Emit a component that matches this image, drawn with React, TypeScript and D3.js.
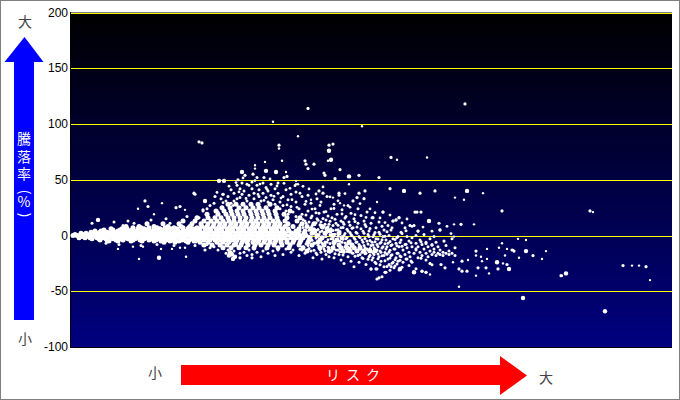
import React from "react";
import * as d3 from "d3";

const yTicks = [200, 150, 100, 50, 0, -50, -100];

// Dense body of the cloud, one row per return level: [return, risk, risk, ...]
const denseRows: number[][] = [
  [0,2,6,9,13,17,20,24,28,31,35,39,42,46,50,53,57,61,64,68,72,75,79,83,86,90,94,97,101,105,108,112,116,119,123,127,130,134,138,141,145,149,152,156,160,163,167,171,174,178,182,185,189,193,196,200,204,207,211,215,219,224,229,235,246,262],
  [2,10,15,22,27,33,38,44,49,55,60,66,71,77,82,88,93,99,104,110,115,121,126,132,137,143,148,154,159,165,170,176,181,187,192,198,203,209,214,221,227,233,241,254,268],
  [-2,8,14,19,26,32,37,43,48,54,59,65,70,76,81,87,92,98,103,109,114,120,125,131,136,142,147,153,158,164,169,175,180,186,191,197,202,208,213,220,226,232,239,251,271],
  [4,24,30,41,47,58,63,74,80,91,96,107,113,124,129,135,140,146,151,157,162,168,173,179,184,190,195,201,206,212,218,225,234,244,259],
  [-4,29,36,45,52,62,69,78,85,95,102,111,118,128,133,139,144,150,155,161,166,172,177,183,188,194,199,205,210,216,223,230,238,249,266],
  [6,40,51,56,67,73,84,89,100,106,117,122,128,134,139,145,150,156,161,167,172,178,183,189,194,200,205,211,217,228,240,256],
  [-6,93,104,117,129,137,146,152,158,165,171,176,182,187,193,199,204,210,216,222,229,237,247,263,278],
  [8,55,68,83,97,110,119,131,136,142,148,153,159,164,170,175,181,186,192,197,203,208,214,222,236,251],
  [10.5,76,92,108,121,130,137,143,149,154,160,165,171,176,182,187,193,198,204,209,217,231,243],
  [-8.5,133,141,149,156,163,170,177,184,190,197,203,211,219,228,241,253,268,281],
  [13,112,124,133,140,146,152,158,163,169,174,180,185,191,196,202,207,214,226],
  [-11,152,160,168,175,183,196,207,218,232,249,262,270,276,283,289],
  [16,126,137,144,150,157,163,169,175,181,187,193,199,206,216,229],
  [19,136,147,155,161,167,173,180,186,192,198,205,213],
  [22,145,153,160,166,172,179,185,191,197,204,219],
  [25,151,159,168,175,182,188,195,206],
  [28,157,165,172,180,187,199],
  [-14,236,258,272,279,286,293,299,304],
  [1,4,12,19,26,34,41,48,56,63,70,78,85,92,100,107,114,122,129],
  [-1,11,18,25,33,40,47,55,62,69,77,84,91,99,106,113,121,128],
  [3,20,29,36,43,52,59,67,72,81,87,94,103,109,118,125],
  [-3,21,28,35,42,50,57,64,73,80,88,96,104,112,120,126],
  [5,33,42,49,54,61,69,76,83,90,98,105,112,120,127],
  [-5,38,47,60,71,83,90,99,108,115,123],
  [7,62,70,78,86,94,103,112,118,126],
];

// Edge of the cloud: [risk, return, return, ...]
const edgeColumns: number[][] = [
  [21,11],[27,14],[35,-7],[43,12],[48,-8],[52,9],[57,13],[63,11],[70,-9],[80,14],[86,-8],[95,15],[99,11],[103,-9],[112,13],[116,17],[124,-9],[128,16],
  [132,22,-9],[136,-8,24],[139,-11,27],[143,29,-10],[147,21,-13],[150,33,-9],[152,37],[155,31,-16],[157,-13,35],[160,29,41,-15],[163,38,-14,31],[166,45,33,-9],
  [169,34,42,-16],[171,47,37],[173,40,-15],[176,31,46,-18],[178,36,-13],[181,42,48,-17],[183,33,38,-12],[186,45,52,-15],[188,35,41],[190,31,-19],[192,47,38,-14],[195,34,43,-12],
  [197,30,40,-16],[200,36,46],[202,32,-14],[204,28,42,-18],[207,38,47,-13],[209,30,24],[212,35,27,-17],[215,41,22,-12],[217,32,19],[220,26,37,-15],[222,21,-13],[225,30,39,17],
  [228,24,15,-18],[231,35,19,-13],[234,28,13,-16],[237,22,36,-9],[240,16,29,-14],[242,-20,10],[244,24,-7,5],[246,33,15,-17],[248,-11,1,20],[250,12,-15,-3,30],[251,-7,4,-21],[253,21,-12,8],
  [255,-1,-17,14],[256,-6,35,3],[258,10,-11,-19],[260,24,-3,6],[261,-14,16,1],[263,-8,28,-20],[265,5,-13,11],[266,-4,19],[268,-17,2,-9,36],[270,13,-22,7],[271,-6,23,-12],[273,0,-15,10,-25],
  [275,-3,17,-9],[277,4,-19,-13,27],[278,-7,12],[280,1,-23,20],[282,-10,7,-16],[283,-2,15,-28],[285,-13,3,-6],[287,11,-18,24],[288,-8,-1,-24],[290,6,-12,18],[291,-4,-20,-15],[293,2,-9,13],
  [295,-16,-26,8],[296,-5,-12,21],[298,-1,-19,4],[300,-9,-14,11,-30],[301,-22,-6,16],[303,1,-11,-17],[305,-3,-25,7],[306,-13,-8,-30],[308,-19,3,12],[310,-6,-15,-23],[312,-10,-1,21],[313,-18,5,-28],
  [315,-12,-4,-33],[317,-21,-7,9],[318,-15,0,-26],[320,-9,-18,5],[322,13,-3,-24],[323,-12,-29],[325,14,-7,-20],[327,-16,-1,-23],[328,16,-10,-31],[330,-4,-19,3],[332,-13,-24],[334,-8,-17,7],
  [336,-1,-21,-11],[338,-15,-5,-27],[339,9,-19],[341,-10,-2,-24],[343,9,-16,-33],[345,-7,-13,0],[347,4,-20,-10],[349,-15,-4],[351,-8,-18,-32],[353,-12,1],[355,-16,-33,-6],[357,-10,-19],
  [359,-14,-25,-3],[361,-17,-8],[363,-15,-12,-1],[365,-18,-6],[367,-16,-10],[369,-17,5,-13],[372,-15,-18],[375,-9,-16],[378,-17,-14],[381,-16,-3],[384,-18,-11],
];

// Speckle above the main cloud
const upperSpeckle: number[][] = [
  [146,38.6],[152,29.4],[158,44.2],[162,26.8],[165,47.5],[168,39.1],[172,51.6],[175,33.2],[178,44.9],[180,27.7],[184,49.3],[187,36.8],[189,46.1],[193,31.5],[196,41.4],[199,50.7],[203,35.1],[206,44.4],
  [210,33.6],[213,46.8],[216,27.4],[219,42.3],[221,32.1],[224,44.7],[226,25.3],[229,37.9],[232,44.1],[235,30.6],[238,41.8],[241,23.7],[245,37.2],[249,26.9],[252,43.6],[255,21.4],[259,34.7],[263,24.2],
  [267,31.1],[271,19.3],[274,37.6],[279,25.4],[284,18.7],[289,28.6],[295,16.2],[299,23.9],[304,20.4],[309,15.8],[314,11.6],[319,18.3],[331,11.2],[336,14.8],[341,8.1],[352,7.6],[361,3.9],[376,8.2],[380,1.7],
];

// Second layer of the middle of the cloud, where many funds overlap
const midBody: number[][] = [
  [229,-5.5,9,-12.3,3.7],[232,7.2,-2.8,-10.4,14.1],[235,-7.6,1.4,10.9,18.3],[238,4.6,-11.7,-0.8,12.2],[241,-4.3,8.8,-9.1,17.6],[243,1.9,-13.2,6.1,-6.7],[245,11.4,-2.2,-15.8,20.3],
  [247,-8.8,5.3,-0.4,13.7],[249,3.2,-5.1,9.6,-12.7],[252,-9.7,-1.6,15.2,6.7],[254,2.4,-13.9,10.1,-5.9],[257,-3.7,7.9,-10.6,17.4],[259,0.6,-7.2,-15.1,12.8],[262,-11.8,4.4,-2.9,8.9],
  [264,-6.4,1.2,14.6,-16.3],[267,-12.9,-0.7,9.3,5.2],[269,-5.2,3.6,-9.8,-14.6],[272,7.1,-3.4,-17.5,11.9],[274,-10.2,1.7,-6.8,15.7],[276,-14.3,-1.9,5.7,-8.1],[279,-11.1,-4.7,9.2,2.8],
  [281,-15.7,-7.9,-0.3,6.4],[284,-10.7,-3.3,-18.6,12.6],[286,-13.6,-5.8,2.1,7.7],[289,-17.1,-9.4,-1.8,-12.2],[292,-6.1,-14.8,3.9,-20.7],[294,-10.9,-2.6,-16.4,9.8],[297,-7.7,-13.1,-21.3,0.9],
  [299,-4.4,-11.6,-17.8,6.2],[302,-8.6,-15.4,-1.2,-19.9],[304,-12.4,-5.6,-24.1,2.6],[307,-9.9,-16.7,-3.1,-20.8],[309,-13.8,-6.9,-26.2,1.1],[311,-11.3,-18.2,-3.8,8.2],[314,-15.2,-7.4,-22.6,-0.6],
  [316,-10.1,-16.9,-27.7,3.4],[319,-13.3,-5.3,-20.2,-31.1],[321,-8.3,-17.3,-24.8,6.9],[324,-12.1,-3.6,-21.7,-27.3],[326,-9.2,-15.9,-1.7,-25.6],[329,-18.4,-6.3,-22.2],[331,-9.6,-28.4,1.8],
  [335,-7.8,-21.1,4.3],[340,-6.6,-22.9],[345,-11.9,-29.8],[350,-5.7,-20.4],[355,-7.1,-21.9],[361,-8.7,-26.3],
];

const lightFunds: number[][] = [
  [202,102],[208,78],[227,89],[291,98],[326,68],[356,70],[412,38],[184,63],[184,60],[215,57],[225,49],[225,46],[227,46],[278,46],[269,29],[273,27],[306,30],[262,34],
  [240,32],[364,40],[393,32],[384,34],[383,10],[403,10],[339,9],[343,9],[383,-1],[447,-3],[455,-4],[431,-7],[416,-12],[428,-11],[436,-12],[442,-13],[405,-18],[475,-14],
  [471,-21],[448,-20],[410,-19],[416,-21],[397,-22],[411,-23],[382,-24],[359,-25],[434,-18],[432,-25],[405,-36],[418,-34],[359,-35],[388,-46],[561,-27],[568,-27],[579,-40],[522,21],[491,-36],
  [194,66],[211,67],[257,67],[67,24],[91,29],[83,19],[114,23],[68,-21],[115,-19],[62,-10],[72,-10],[101,-12],[90,-12],[114,-11],[109,-11],[125,-6],[47,-12],
];

const midFunds: number[][] = [
  [237,114],[128,84],[131,83],[394,118],[258,81],[262,82],[208,81],[253,56],[254,54],[320,70],[234,67],[235,64],[237,60],[243,64],[269,59],[288,54],[264,51],[182,55],[174,54],
  [319,42],[248,40],[252,38],[268,38],[288,38],[294,40],[282,31],[286,34],[293,33],[349,38],[364,40],[123,38],[124,37],[308,52],[216,53],[213,52],[193,52],[167,50],
  [312,21],[344,21],[346,21],[350,21],[302,16],[322,13],[325,14],[328,16],[369,5],[347,4],[368,11],[358,13],[390,10],[373,-5],[405,-14],[391,-23],[370,-26],[426,-24],
  [436,-26],[407,-29],[415,-29],[427,-30],[388,-30],[391,-32],[396,-32],[374,-29],[343,-33],[351,-32],[355,-33],[329,-30],[320,-28],[300,-30],[305,-30],[314,-33],[306,-39],[308,-38],[311,-37],
  [441,-13],[443,-14],[462,-18],[552,-27],[490,-36],[575,-28],[519,22],[431,22],[74,31],[77,26],[105,25],[109,26],[132,23],[144,35],[152,37],[134,-13],[169,-20],[181,-20],
];

const largeFunds: number[][] = [
  [258,76],[260,68],[171,57],[195,58],[205,57],[278,53],[148,49],[153,49],[134,31],[333,40],[396,40],[358,13],[455,-14],[438,-30],[495,-34],[452,-56],[534,-68],
  [161,-17],[158,-18],[164,-19],[159,-15],[162,-21],[88,-20],[329,-30],[343,-33],[426,-24],[27,14],
];

const fromRows = (rows: number[][]) => rows.flatMap(([ret, ...risks]) => risks.map((risk) => [risk, ret]));
const fromColumns = (cols: number[][]) => cols.flatMap(([risk, ...rets]) => rets.map((ret) => [risk, ret]));

const W = 680;
const H = 400;
const x = d3.scaleLinear().domain([0, 600]).range([71, 671]);
const y = d3.scaleLinear().domain([-100, 200]).range([347, 12.5]);

export default function App() {
  const dots = (points: number[][], r: number, k: string) =>
    points.map(([a, b], i) => <circle key={k + "-" + i} cx={x(a)} cy={y(b)} r={r} fill="#fff" />);
  return (
    <svg width={W} height={H} style={{ position: "absolute", left: 0, top: 0, background: "#fff" }} fontFamily="'Liberation Sans', Arial, sans-serif">
      <defs>
        <linearGradient id="bg" x1="0" y1="0" x2="0" y2="1">
          <stop offset="0" stopColor="#000000" />
          <stop offset="1" stopColor="#000080" />
        </linearGradient>
      </defs>
      <rect x={0.5} y={0.5} width={W - 1} height={H - 1} fill="#fff" stroke="#808080" />
      <rect x={x(0)} y={y(200)} width={601} height={y(-100) - y(200)} fill="url(#bg)" />
      {yTicks.filter((t) => t !== -100).map((t) => (
        <line key={t} x1={x(0)} x2={672} y1={Math.round(y(t)) + 0.5} y2={Math.round(y(t)) + 0.5} stroke="#ffff00" strokeWidth={1} />
      ))}
      <line x1={70.5} x2={70.5} y1={12} y2={347.5} stroke="#000" />
      <line x1={70} x2={672} y1={347.5} y2={347.5} stroke="#000" />
      {yTicks.map((t) => (
        <text key={t} x={68} y={y(t) + 4} textAnchor="end" fontSize={12} fill="#000">{t}</text>
      ))}
      {dots(lightFunds, 1.2, "l")}
      {dots(upperSpeckle, 1.4, "u")}
      {dots(fromColumns(edgeColumns), 1.5, "e")}
      {dots(fromColumns(midBody), 1.5, "b")}
      {dots(midFunds, 1.6, "m")}
      {dots(fromRows(denseRows), 2.5, "d")}
      {dots(largeFunds, 2.2, "g")}

      <path d="M24.5 37 L43.5 62 L34 62 L34 320 L14 320 L14 62 L4.5 62 Z" fill="#0000ff" />
      <path d="M181 365 L500 365 L500 356 L527 375.5 L500 395 L500 385 L181 385 Z" fill="#ff0000" />
      <g fontFamily="'Noto Sans CJK JP', sans-serif" fontSize={14} fill="#444" textAnchor="middle">
        <text x={25} y={27}>大</text>
        <text x={25} y={344}>小</text>
        <text x={155} y={378}>小</text>
        <text x={546} y={383}>大</text>
      </g>
      <g fontFamily="'Noto Sans CJK JP', sans-serif" fontSize={14} fill="#fff">
        <text x={24} y={132} textAnchor="start" style={{ writingMode: "vertical-rl", letterSpacing: 3.5 }}>騰落率</text>
        <text x={24} y={196} textAnchor="middle" transform="rotate(90 24 192)">(</text>
        <text x={24} y={207} textAnchor="middle">%</text>
        <text x={24} y={219} textAnchor="middle" transform="rotate(90 24 215)">)</text>
        <text x={326} y={380} textAnchor="start" style={{ letterSpacing: 6 }}>リスク</text>
      </g>
    </svg>
  );
}
